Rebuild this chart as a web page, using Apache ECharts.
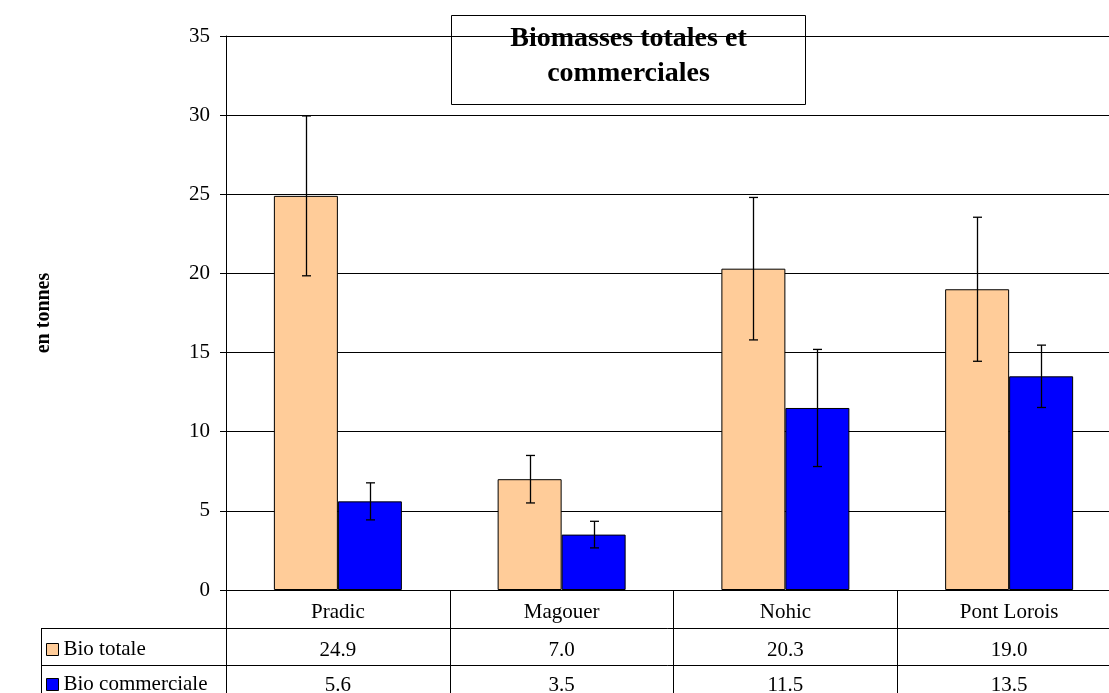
<!DOCTYPE html>
<html>
<head>
<meta charset="utf-8">
<script src="https://cdn.jsdelivr.net/npm/echarts@6/dist/echarts.min.js"></script>
<style>
html,body{margin:0;padding:0;background:#fff;}
#c{width:1109px;height:693px;}
</style>
</head>
<body>
<div id="c"></div>
<script>
const categories = ['Pradic', 'Magouer', 'Nohic', 'Pont Lorois'];
const bioTotale = [24.9, 7.0, 20.3, 19.0];
const bioCommerciale = [5.6, 3.5, 11.5, 13.5];
const errTotale = [5.05, 1.5, 4.5, 4.55];
const errCommerciale = [1.17, 0.84, 3.7, 1.97];
const seriesNames = ['Bio totale', 'Bio commerciale'];
const yTicks = { min: 0, max: 35, interval: 5 };

const FONT = '"Liberation Serif", "Times New Roman", serif';
const BAR_W = 64;
const chart = echarts.init(document.getElementById('c'), null, { renderer: 'canvas' });

function errSeries(vals, errs, offset) {
  return {
    type: 'custom',
    xAxisIndex: 0, yAxisIndex: 0, z: 10,
    silent: true,
    encode: { x: 0, y: 1 },
    data: vals.map((v, i) => [i, v, errs[i]]),
    renderItem: function (params, api) {
      const i = api.value(0), v = api.value(1), e = api.value(2);
      const hi = api.coord([i, v + e]);
      const lo = api.coord([i, v - e]);
      const x = Math.round(hi[0] + offset) + 0.5;
      const cap = 4.5;
      const st = { stroke: '#000', lineWidth: 1.3 };
      return {
        type: 'group',
        children: [
          { type: 'line', shape: { x1: x, y1: hi[1], x2: x, y2: lo[1] }, style: st },
          { type: 'line', shape: { x1: x - cap, y1: hi[1], x2: x + cap, y2: hi[1] }, style: st },
          { type: 'line', shape: { x1: x - cap, y1: lo[1], x2: x + cap, y2: lo[1] }, style: st }
        ]
      };
    }
  };
}

const fmt = v => v.toFixed(1);
const legendText = { fontFamily: FONT, fontSize: 21, color: '#000', lineHeight: 21 };
function legendFor(name, top) {
  return {
    orient: 'vertical', left: 46, top: top, padding: 0,
    itemWidth: 12, itemHeight: 12, icon: 'rect', selectedMode: false,
    itemStyle: { borderColor: '#000', borderWidth: 1 },
    textStyle: legendText, data: [name]
  };
}

const option = {
  animation: false,
  backgroundColor: '#fff',
  textStyle: { fontFamily: FONT, color: '#000' },
  grid: { left: 226, width: 895, top: 36, height: 554, containLabel: false, outerBoundsMode: 'none' },
  legend: [legendFor(seriesNames[0], 639), legendFor(seriesNames[1], 674)],
  xAxis: [
    {
      type: 'category', data: categories, position: 'bottom',
      axisLine: { show: true, lineStyle: { color: '#000', width: 1 } },
      axisTick: { show: true, alignWithLabel: false, inside: false, length: 110, interval: 0, lineStyle: { color: '#000', width: 1 } },
      axisLabel: { margin: 12, fontFamily: FONT, fontSize: 21, color: '#000', interval: 0 },
      splitLine: { show: false }
    },
    {
      type: 'category', data: bioTotale.map(fmt), position: 'bottom', offset: 38,
      axisLine: { show: true, lineStyle: { color: '#000', width: 1 } },
      axisTick: { show: false },
      axisLabel: { margin: 12, fontFamily: FONT, fontSize: 21, color: '#000', interval: 0 }
    },
    {
      type: 'category', data: bioCommerciale.map(fmt), position: 'bottom', offset: 75,
      axisLine: { show: true, lineStyle: { color: '#000', width: 1 } },
      axisTick: { show: false },
      axisLabel: { margin: 10, fontFamily: FONT, fontSize: 21, color: '#000', interval: 0 }
    }
  ],
  yAxis: {
    type: 'value', min: yTicks.min, max: yTicks.max, interval: yTicks.interval,
    name: 'en tonnes', nameLocation: 'middle', nameGap: 172, nameRotate: 90,
    nameTextStyle: { fontFamily: FONT, fontSize: 20, fontWeight: 'bold', color: '#000' },
    axisLine: { show: true, lineStyle: { color: '#000', width: 1 } },
    axisTick: { show: true, inside: false, length: 6, lineStyle: { color: '#000' } },
    axisLabel: { margin: 16, fontFamily: FONT, fontSize: 21, color: '#000' },
    splitLine: { show: true, lineStyle: { color: '#000', width: 1 } }
  },
  series: [
    {
      name: seriesNames[0], type: 'bar', data: bioTotale, barWidth: BAR_W, barGap: '0%',
      itemStyle: { color: '#FFCC99', borderColor: '#000', borderWidth: 1 }
    },
    {
      name: seriesNames[1], type: 'bar', data: bioCommerciale, barWidth: BAR_W, barGap: '0%',
      itemStyle: { color: '#0000FF', borderColor: '#000', borderWidth: 1 }
    },
    errSeries(bioTotale, errTotale, -BAR_W / 2),
    errSeries(bioCommerciale, errCommerciale, BAR_W / 2)
  ],
  graphic: [
    { type: 'line', shape: { x1: 41, y1: 628.5, x2: 226, y2: 628.5 }, style: { stroke: '#000', lineWidth: 1 }, z: 5 },
    { type: 'line', shape: { x1: 41, y1: 665.5, x2: 226, y2: 665.5 }, style: { stroke: '#000', lineWidth: 1 }, z: 5 },
    { type: 'line', shape: { x1: 41.5, y1: 628, x2: 41.5, y2: 700 }, style: { stroke: '#000', lineWidth: 1 }, z: 5 },
    {
      type: 'group', z: 20,
      children: [
        { type: 'rect', shape: { x: 451.5, y: 15.5, width: 354, height: 89 }, style: { fill: '#fff', stroke: '#000', lineWidth: 1 } },
        {
          type: 'text', x: 628.5, y: 56,
          style: {
            text: 'Biomasses totales et\ncommerciales',
            font: 'bold 28px ' + FONT, fill: '#000',
            textAlign: 'center', textVerticalAlign: 'middle', lineHeight: 35
          }
        }
      ]
    }
  ]
};
chart.setOption(option);
</script>
</body>
</html>
